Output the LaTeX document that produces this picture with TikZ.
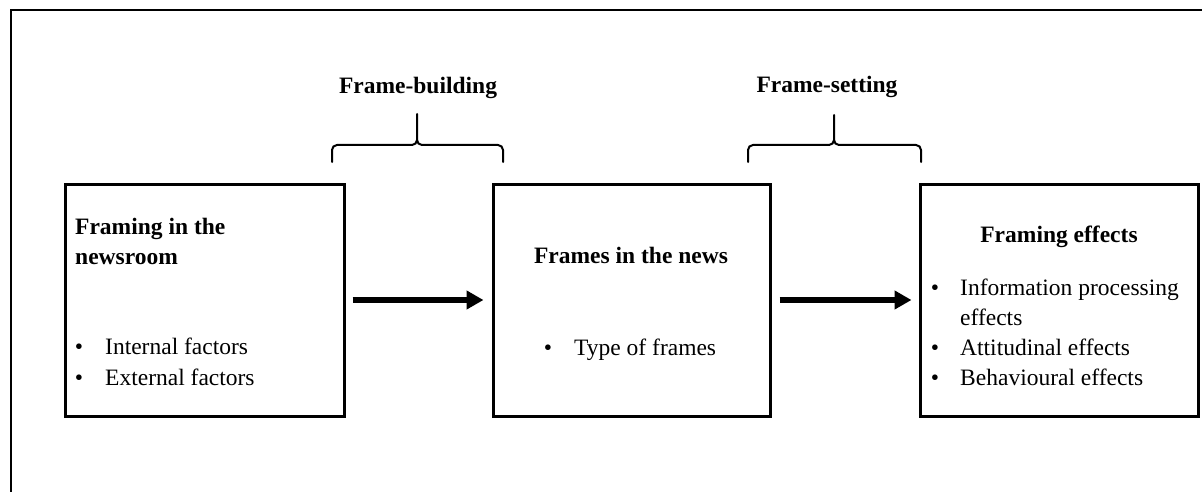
\documentclass[tikz,border=0pt]{standalone}
\usepackage{fontspec}
\setmainfont{Liberation Serif}
\usetikzlibrary{arrows.meta}
\newcommand{\diagfont}{\fontsize{23.5pt}{30pt}\selectfont}
\tikzset{
  stage/.style={draw, line width=3pt, rectangle, minimum height=232pt, inner sep=0pt},
  flow/.style={line width=6pt, -{Triangle[length=17pt,width=18pt]}},
  bracket/.style={line width=2pt, line cap=round},
  head/.style={font=\diagfont\bfseries, inner sep=0pt, anchor=base},
  headl/.style={font=\diagfont\bfseries, inner sep=0pt, anchor=base west},
  item/.style={font=\diagfont, inner sep=0pt, anchor=base west},
  dot/.style={font=\diagfont, inner sep=0pt, anchor=base}
}
\begin{document}
\begin{tikzpicture}[x=1pt,y=-1pt]
\useasboundingbox (0,0) rectangle (1202,492);
% page frame (top and left edges)
\draw[line width=1.5pt] (11,492) -- (11,10) -- (1202,10);

% the three stages
\node[stage, minimum width=279pt] (b1) at (204.5,300) {};
\node[stage, minimum width=277pt] (b2) at (631.5,300) {};
\node[stage, minimum width=278pt] (b3) at (1059,300) {};

% flow between stages
\draw[flow, shorten <=7pt, shorten >=8pt] (b1.east) -- (b2.west);
\draw[flow, shorten <=8pt, shorten >=7pt] (b2.east) -- (b3.west);

% brackets over the transitions
\draw[bracket] (332,162) -- (332,150) to[out=90,in=180] (337,145) -- (412,145)
  to[out=0,in=-90] (417,140) -- (417,114);
\draw[bracket] (417,140) to[out=-90,in=180] (422,145) -- (498,145)
  to[out=0,in=90] (503,150) -- (503,162);
\draw[bracket] (748,162) -- (748,150) to[out=90,in=180] (753,145) -- (829,145)
  to[out=0,in=-90] (834,140) -- (834,115);
\draw[bracket] (834,140) to[out=-90,in=180] (839,145) -- (916,145)
  to[out=0,in=90] (921,150) -- (921,162);

\node[head] (lb1) at (418,94) {Frame-building};
\node[head] (lb2) at (827,93) {Frame-setting};

% stage 1
\node[headl] (t1a) at (75,234) {Framing in the};
\node[headl] (t1b) at (75,264) {newsroom};
\node[dot] (d1a) at (79,354) {•};
\node[item] (i1a) at (105,354) {Internal factors};
\node[dot] (d1b) at (79,385) {•};
\node[item] (i1b) at (105,385) {External factors};

% stage 2
\node[head] (t2) at (631,263) {Frames in the news};
\node[dot] (d2) at (548,355) {•};
\node[item] (i2) at (574,355) {Type of frames};

% stage 3
\node[head] (t3) at (1059,242) {Framing effects};
\node[dot] (d3a) at (935,295) {•};
\node[item] (i3a) at (960,295) {Information processing};
\node[item] (i3b) at (960,325) {effects};
\node[dot] (d3c) at (935,355) {•};
\node[item] (i3c) at (960,355) {Attitudinal effects};
\node[dot] (d3d) at (935,385) {•};
\node[item] (i3d) at (960,385) {Behavioural effects};
\end{tikzpicture}
\end{document}
